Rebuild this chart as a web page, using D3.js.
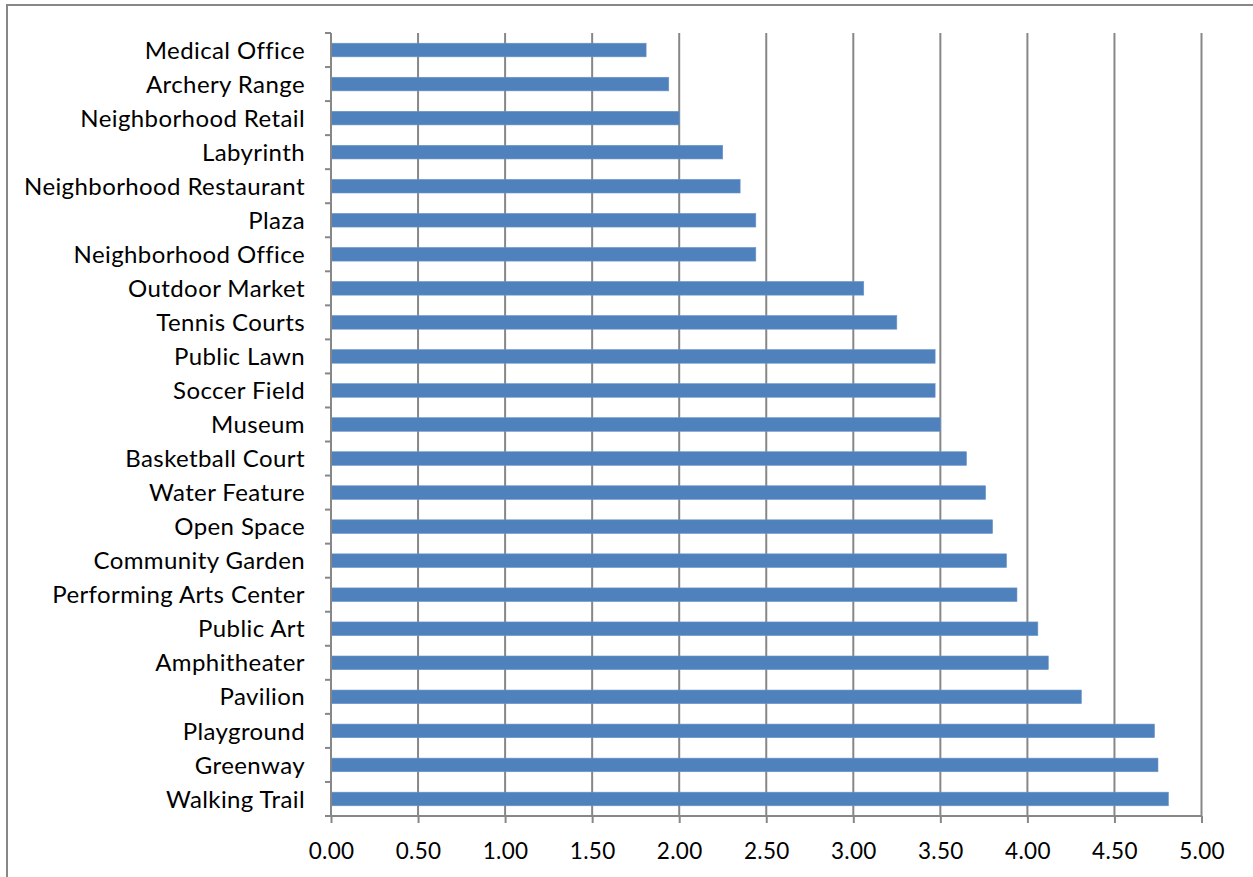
<!DOCTYPE html>
<html>
<head>
<meta charset="utf-8">
<script src="https://cdn.jsdelivr.net/npm/d3@7"></script>
<style>
  body { margin: 0; background: #fff; }
  svg { display: block; font-family: Lato, "Open Sans", sans-serif; }
</style>
</head>
<body>
<div id="graph"></div>
<script>
var categories = ['Medical Office', 'Archery Range', 'Neighborhood Retail', 'Labyrinth',
  'Neighborhood Restaurant', 'Plaza', 'Neighborhood Office', 'Outdoor Market', 'Tennis Courts',
  'Public Lawn', 'Soccer Field', 'Museum', 'Basketball Court', 'Water Feature', 'Open Space',
  'Community Garden', 'Performing Arts Center', 'Public Art', 'Amphitheater', 'Pavilion',
  'Playground', 'Greenway', 'Walking Trail']

var values = [1.81, 1.94, 2.00, 2.25, 2.35, 2.44, 2.44, 3.06, 3.25, 3.47, 3.47, 3.50,
  3.65, 3.76, 3.80, 3.88, 3.94, 4.06, 4.12, 4.31, 4.73, 4.75, 4.81]

var xTicks = [0, 0.5, 1, 1.5, 2, 2.5, 3, 3.5, 4, 4.5, 5]

var data = categories.map((d, i) => ({name: d, value: values[i]}))

var width = 1253, height = 877
var margin = {left: 331, right: 1253 - 1201.5, top: 33, bottom: 877 - 816}
var gridColor = '#878787'

var svg = d3.select('#graph').append('svg')
  .attr('width', width)
  .attr('height', height)

// outer frame (cropped at right and bottom)
svg.append('rect')
  .attr('x', 7).attr('y', 5)
  .attr('width', width + 10).attr('height', height + 10)
  .attr('fill', 'none')
  .attr('stroke', gridColor)
  .attr('stroke-width', 2)

var x = d3.scaleLinear().domain([0, 5]).range([margin.left, width - margin.right])
var y = d3.scaleBand().domain(categories).range([margin.top, height - margin.bottom])
  .paddingInner(0.6).paddingOuter(0.3)
var yEdge = d3.scaleLinear().domain([0, categories.length]).range([margin.top, height - margin.bottom])

// vertical gridlines
svg.append('g').selectAll('line')
  .data(xTicks.slice(1))
  .join('line')
  .attr('x1', d => x(d)).attr('x2', d => x(d))
  .attr('y1', margin.top).attr('y2', height - margin.bottom)
  .attr('stroke', gridColor)
  .attr('stroke-width', 2)

// bars
svg.append('g').selectAll('rect')
  .data(data)
  .join('rect')
  .attr('x', x(0))
  .attr('y', d => y(d.name))
  .attr('width', d => x(d.value) - x(0))
  .attr('height', y.bandwidth())
  .attr('fill', '#4f81bd')
  .attr('stroke', '#6a95c8')
  .attr('stroke-width', 0.6)

// x axis
var xAxis = d3.axisBottom(x)
  .tickValues(xTicks)
  .tickFormat(d3.format('.2f'))
  .tickSize(7)
  .tickPadding(20)

var xg = svg.append('g')
  .attr('transform', 'translate(0,' + (height - margin.bottom) + ')')
  .call(xAxis)
xg.select('.domain').attr('stroke', gridColor).attr('stroke-width', 2)
  .attr('d', 'M' + x(0) + ',0H' + x(5))
xg.selectAll('.tick line').attr('stroke', gridColor).attr('stroke-width', 2)
xg.selectAll('.tick text')
  .attr('fill', '#000')
  .style('font-size', '22.5px')
  .style('letter-spacing', '0.3px')
  .style('font-family', 'Lato, sans-serif')

// y axis line with ticks at band edges
svg.append('line')
  .attr('x1', x(0)).attr('x2', x(0))
  .attr('y1', margin.top).attr('y2', height - margin.bottom)
  .attr('stroke', gridColor).attr('stroke-width', 2)

svg.append('g').selectAll('line')
  .data(d3.range(categories.length + 1))
  .join('line')
  .attr('x1', x(0) - 6).attr('x2', x(0))
  .attr('y1', d => yEdge(d)).attr('y2', d => yEdge(d))
  .attr('stroke', gridColor).attr('stroke-width', 2)

// category labels
svg.append('g').selectAll('text')
  .data(categories)
  .join('text')
  .attr('x', 305)
  .attr('y', d => y(d) + y.bandwidth() / 2)
  .attr('dy', '0.36em')
  .attr('text-anchor', 'end')
  .style('font-size', '24px')
  .style('letter-spacing', '0.4px')
  .text(d => d)
</script>
</body>
</html>
